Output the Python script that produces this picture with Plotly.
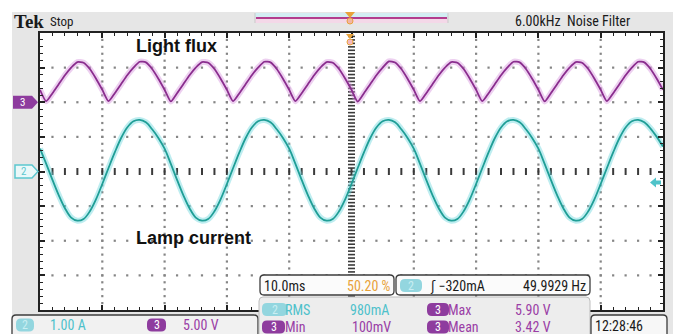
import plotly.graph_objects as go

# ---------------------------------------------------------------- data
# Time base: 10 ms/div, 10 divisions across the screen
time_ms = list(range(0, 101))

# CH3 - light flux (V), 5.00 V/div
light_flux_v = [
    1.80, 0.15, 1.30, 2.60, 3.90, 5.00, 5.80, 5.70, 4.80, 3.40,
    1.80, 0.15, 1.30, 2.60, 3.90, 5.00, 5.85, 5.75, 4.80, 3.40,
    1.80, 0.12, 1.30, 2.60, 3.90, 5.00, 5.80, 5.70, 4.80, 3.40,
    1.80, 0.15, 1.30, 2.60, 3.90, 5.00, 5.85, 5.75, 4.80, 3.40,
    1.80, 0.15, 1.30, 2.60, 3.90, 5.00, 5.80, 5.70, 4.80, 3.40,
    1.80, 0.10, 1.30, 2.60, 3.90, 5.00, 5.90, 5.75, 4.80, 3.40,
    1.80, 0.15, 1.30, 2.60, 3.90, 5.00, 5.80, 5.70, 4.80, 3.40,
    1.80, 0.15, 1.30, 2.60, 3.90, 5.00, 5.85, 5.75, 4.80, 3.40,
    1.80, 0.12, 1.30, 2.60, 3.90, 5.00, 5.80, 5.70, 4.80, 3.40,
    1.80, 0.15, 1.30, 2.60, 3.90, 5.00, 5.85, 5.75, 4.80, 3.40,
    1.80,
]

# CH2 - lamp current (A), 1.00 A/div
lamp_current_a = [
    0.66, 0.22, -0.24, -0.68, -1.06, -1.33, -1.42, -1.37, -1.15, -0.80,
    -0.36, 0.10, 0.55, 0.96, 1.27, 1.45, 1.49, 1.42, 1.22, 0.97,
    0.66, 0.22, -0.24, -0.68, -1.06, -1.33, -1.42, -1.37, -1.15, -0.80,
    -0.36, 0.10, 0.55, 0.96, 1.27, 1.45, 1.49, 1.42, 1.22, 0.97,
    0.66, 0.22, -0.24, -0.68, -1.06, -1.33, -1.42, -1.37, -1.15, -0.80,
    -0.36, 0.10, 0.55, 0.96, 1.27, 1.45, 1.49, 1.42, 1.22, 0.97,
    0.66, 0.22, -0.24, -0.68, -1.06, -1.33, -1.42, -1.37, -1.15, -0.80,
    -0.36, 0.10, 0.55, 0.96, 1.27, 1.45, 1.49, 1.42, 1.22, 0.97,
    0.66, 0.22, -0.24, -0.68, -1.06, -1.33, -1.42, -1.37, -1.15, -0.80,
    -0.36, 0.10, 0.55, 0.96, 1.27, 1.45, 1.49, 1.42, 1.24, 1.00,
    0.72,
]

# channel settings
CH3_VOLTS_PER_DIV = 5.0
CH3_OFFSET_DIV = 2.0
CH2_AMPS_PER_DIV = 1.0
CH2_OFFSET_DIV = 0.0
TRIG_LEVEL_A = -0.32

readout_scale = ["1.00 A", "5.00 V"]
readout_time = ["10.0ms", "50.20 %"]
readout_trig = ["\u0283 \u2212320mA", "49.9929 Hz"]
meas_labels = ["RMS", "Max", "Min", "Mean"]
meas_values = ["980mA", "5.90 V", "100mV", "3.42 V"]

# ---------------------------------------------------------------- geometry
W, H = 679, 334
GX0, GX1, GY0, GY1 = 40, 663, 33, 310

def X(px):
    return px / W

def Y(py):
    return 1 - py / H

def div_to_py(d):
    return GY0 + (4 - d) * (GY1 - GY0) / 8.0

def rrect(x0, y0, x1, y1, r):
    return (f"M {X(x0 + r)},{Y(y0)} L {X(x1 - r)},{Y(y0)} "
            f"Q {X(x1)},{Y(y0)} {X(x1)},{Y(y0 + r)} L {X(x1)},{Y(y1 - r)} "
            f"Q {X(x1)},{Y(y1)} {X(x1 - r)},{Y(y1)} L {X(x0 + r)},{Y(y1)} "
            f"Q {X(x0)},{Y(y1)} {X(x0)},{Y(y1 - r)} L {X(x0)},{Y(y0 + r)} "
            f"Q {X(x0)},{Y(y0)} {X(x0 + r)},{Y(y0)} Z")

def poly(points):
    return "M " + " L ".join(f"{X(a)},{Y(b)}" for a, b in points) + " Z"

PURPLE = "#8a2d8e"
PURPLE_TXT = "#9a3ea6"
BADGE_PURPLE = "#8e3c9e"
TEAL = "#1f9e96"
TEAL_TXT = "#4fc1cb"
BADGE_TEAL = "#93d6df"
ORANGE = "#e8a23a"
BEZEL = "#e6e6e6"
NARROW = "Liberation Sans Narrow, Roboto Condensed, DejaVu Sans Condensed, sans-serif"

fig = go.Figure()

# ---------------------------------------------------------------- graticule dots
gx, gy = [], []
for k in range(1, 10):
    if k == 5:
        continue
    for m in range(1, 40):
        gx.append(k * 10)
        gy.append(-4 + m * 0.2)
for j in range(-3, 4):
    if j == 0:
        continue
    for m in range(1, 50):
        gx.append(m * 2)
        gy.append(j)
fig.add_trace(go.Scatter(x=gx, y=gy, mode="markers", hoverinfo="skip",
                         marker=dict(symbol="square", size=2.2, color="#858585", line=dict(width=0))))

# centre cross with finer ticks
cx = [50] * 79
cy = [-4 + m * 0.1 for m in range(1, 80)]
fig.add_trace(go.Scatter(x=cx, y=cy, mode="markers", hoverinfo="skip",
                         marker=dict(symbol="line-ew", size=5, line=dict(width=1.6, color="#3a3a3a"))))
hx = [m * 2 for m in range(1, 50)]
hy = [0] * len(hx)
fig.add_trace(go.Scatter(x=hx, y=hy, mode="markers", hoverinfo="skip",
                         marker=dict(symbol="line-ns", size=5, line=dict(width=2, color="#3a3a3a"))))

# ---------------------------------------------------------------- waveforms
ch3_div = [CH3_OFFSET_DIV + v / CH3_VOLTS_PER_DIV for v in light_flux_v]
ch2_div = [CH2_OFFSET_DIV + a / CH2_AMPS_PER_DIV for a in lamp_current_a]

for ys, glow, core, sm in [(ch3_div, "rgba(215,150,222,0.45)", PURPLE, 0.6),
                           (ch2_div, "rgba(110,214,222,0.45)", TEAL, 1.0)]:
    fig.add_trace(go.Scatter(x=time_ms, y=ys, mode="lines", hoverinfo="skip",
                             line=dict(color=glow, width=6, shape="spline", smoothing=sm)))
    fig.add_trace(go.Scatter(x=time_ms, y=ys, mode="lines", hoverinfo="skip",
                             line=dict(color=core, width=1.8, shape="spline", smoothing=sm)))

shapes = []
ann = []

# ---------------------------------------------------------------- bezel
for (x0, y0, x1, y1) in [(12, 12, 673, GY0), (12, GY0, GX0, H), (GX1, GY0, 673, H), (GX0, GY1, GX1, H)]:
    shapes.append(dict(type="rect", xref="paper", yref="paper", x0=X(x0), x1=X(x1), y0=Y(y1), y1=Y(y0),
                       fillcolor=BEZEL, line=dict(width=0), layer="below"))

# trigger-position bar on top
shapes.append(dict(type="rect", xref="paper", yref="paper", x0=X(255), x1=X(448), y0=Y(18), y1=Y(13),
                   fillcolor="#d3eef3", line=dict(width=0)))
shapes.append(dict(type="rect", xref="paper", yref="paper", x0=X(255), x1=X(448), y0=Y(23), y1=Y(18),
                   fillcolor="#f4d8e8", line=dict(width=0)))
shapes.append(dict(type="line", xref="paper", yref="paper", x0=X(256), x1=X(447), y0=Y(18), y1=Y(18),
                   line=dict(color="#b23d8e", width=2)))
shapes.append(dict(type="line", xref="paper", yref="paper", x0=X(255), x1=X(255), y0=Y(13), y1=Y(23),
                   line=dict(color="#c9c9c9", width=1)))
shapes.append(dict(type="line", xref="paper", yref="paper", x0=X(448), x1=X(448), y0=Y(13), y1=Y(23),
                   line=dict(color="#c9c9c9", width=1)))
shapes.append(dict(type="path", xref="paper", yref="paper",
                   path=poly([(345, 12), (355, 12), (350, 18)]), fillcolor=ORANGE, line=dict(width=0)))
shapes.append(dict(type="circle", xref="paper", yref="paper", x0=X(347), x1=X(353), y0=Y(24), y1=Y(18),
                   fillcolor="#f2b5a6", line=dict(color=ORANGE, width=1)))
# trigger position marker on the graticule
shapes.append(dict(type="path", xref="paper", yref="paper", layer="above",
                   path=poly([(346, 34), (354, 34), (350, 39)]), fillcolor=ORANGE, line=dict(width=0)))
shapes.append(dict(type="circle", xref="paper", yref="paper", layer="above", x0=X(347), x1=X(353), y0=Y(45), y1=Y(39),
                   fillcolor="#f3b9c0", line=dict(color=ORANGE, width=1)))

# channel ground markers
y3 = div_to_py(CH3_OFFSET_DIV)
y2 = div_to_py(CH2_OFFSET_DIV)
shapes.append(dict(type="path", xref="paper", yref="paper",
                   path=poly([(13, y3 - 6.5), (32, y3 - 6.5), (38, y3), (32, y3 + 6.5), (13, y3 + 6.5)]),
                   fillcolor=BADGE_PURPLE, line=dict(width=0)))
ann.append(dict(x=X(22), y=Y(y3), text="3", font=dict(color="white", size=11, family=NARROW)))
shapes.append(dict(type="path", xref="paper", yref="paper",
                   path=poly([(15, y2 - 6.5), (32, y2 - 6.5), (38, y2), (32, y2 + 6.5), (15, y2 + 6.5)]),
                   fillcolor="#eaf8f9", line=dict(color="#5cc7cf", width=1.5)))
ann.append(dict(x=X(23), y=Y(y2), text="2", font=dict(color="#5cc7cf", size=11, family=NARROW)))

# trigger level marker (right edge)
yt = div_to_py(CH2_OFFSET_DIV + TRIG_LEVEL_A / CH2_AMPS_PER_DIV)
shapes.append(dict(type="path", xref="paper", yref="paper", layer="above",
                   path=poly([(650, yt), (656, yt - 5), (656, yt - 2), (661, yt - 2), (661, yt + 2),
                              (656, yt + 2), (656, yt + 5)]),
                   fillcolor="#4fc3c9", line=dict(width=0)))

# ---------------------------------------------------------------- readout boxes
BOX_LINE = dict(color="#3c3c3c", width=1.3)
shapes.append(dict(type="path", xref="paper", yref="paper", layer="above",
                   path=rrect(12, 315, 258, 340, 4), fillcolor="#f1f1f1", line=BOX_LINE))
shapes.append(dict(type="path", xref="paper", yref="paper", layer="above",
                   path=rrect(260, 275, 394, 295, 4), fillcolor="#fbfbfb", line=BOX_LINE))
shapes.append(dict(type="path", xref="paper", yref="paper", layer="above",
                   path=rrect(396, 275, 590, 295, 4), fillcolor="#fbfbfb", line=BOX_LINE))
shapes.append(dict(type="path", xref="paper", yref="paper", layer="above",
                   path=rrect(259, 297, 590, 340, 4), fillcolor="#ededed", line=dict(color="#bdbdbd", width=1)))
shapes.append(dict(type="path", xref="paper", yref="paper", layer="above",
                   path=rrect(591, 315, 667, 340, 4), fillcolor="#f7f7f7", line=BOX_LINE))

def badge(x0, x1, yc, fill, label, label_color):
    shapes.append(dict(type="path", xref="paper", yref="paper", layer="above",
                       path=rrect(x0, yc - 6.5, x1, yc + 6.5, 5), fillcolor=fill, line=dict(width=0)))
    ann.append(dict(x=X((x0 + x1) / 2), y=Y(yc), text=label,
                    font=dict(color=label_color, size=12, family=NARROW)))

def txt(x, yc, s, color, size=14, anchor="left", family=NARROW, bold=False):
    if bold:
        s = f"<b>{s}</b>"
    ann.append(dict(x=X(x), y=Y(yc), text=s, xanchor=anchor,
                    font=dict(color=color, size=size, family=family)))

# scale box
badge(16, 34, 325, BADGE_TEAL, "2", "#c9eef2")
txt(48, 325, readout_scale[0], TEAL_TXT)
badge(147, 166, 325, BADGE_PURPLE, "3", "white")
txt(181, 325, readout_scale[1], PURPLE_TXT)

# horizontal box
txt(262, 285.5, readout_time[0], "#1a1a1a")
txt(393, 285.5, readout_time[1], ORANGE, anchor="right")

# trigger box
badge(400, 422, 285.5, BADGE_TEAL, "2", "#c9eef2")
txt(428, 285.5, readout_trig[0], "#1a1a1a")
txt(588, 285.5, readout_trig[1], "#1a1a1a", anchor="right")

# measurement box
badge(262, 287, 309.5, BADGE_TEAL, "2", "#c9eef2")
txt(283, 309.5, meas_labels[0], TEAL_TXT)
txt(348, 309.5, meas_values[0], TEAL_TXT)
badge(427, 449, 309.5, BADGE_PURPLE, "3", "white")
txt(446, 309.5, meas_labels[1], PURPLE_TXT)
txt(513, 309.5, meas_values[1], PURPLE_TXT)

badge(262, 285, 327, BADGE_PURPLE, "3", "white")
txt(283, 327, meas_labels[2], PURPLE_TXT)
txt(350, 327, meas_values[2], PURPLE_TXT)
badge(427, 449, 327, BADGE_PURPLE, "3", "white")
txt(446, 327, meas_labels[3], PURPLE_TXT)
txt(513, 327, meas_values[3], PURPLE_TXT)

# clock
txt(593, 326, "12:28:46", "#1a1a1a")

# header
txt(12, 21, "Tek", "#1a1a1a", size=19, family="Liberation Serif, DejaVu Serif, serif", bold=True)
txt(48, 22, "Stop", "#1a1a1a", size=13)
txt(513, 21.5, "6.00kHz&nbsp;&nbsp;Noise Filter", "#1a1a1a", size=14)

# trace labels
txt(134, 46, "Light flux", "#111111", size=18, family="Liberation Sans, Arial, sans-serif", bold=True)
txt(134, 238, "Lamp current", "#111111", size=18, family="Liberation Sans, Arial, sans-serif", bold=True)

for a in ann:
    a.setdefault("xref", "paper")
    a.setdefault("yref", "paper")
    a.setdefault("showarrow", False)
    a.setdefault("yanchor", "middle")
    a.setdefault("xanchor", "center")

fig.update_layout(
    width=W, height=H,
    margin=dict(l=0, r=0, t=0, b=0),
    paper_bgcolor="white",
    plot_bgcolor="white",
    showlegend=False,
    shapes=shapes,
    annotations=ann,
    xaxis=dict(domain=[X(GX0), X(GX1)], range=[0, 100], showgrid=False, zeroline=False,
               showticklabels=False, ticks="inside", ticklen=5, tickwidth=1.5, tickcolor="#222",
               tick0=0, dtick=10,
               minor=dict(ticks="inside", ticklen=3, tickwidth=1.2, tickcolor="#222", dtick=2, tick0=0),
               showline=True, linecolor="#222", linewidth=1.5, mirror="ticks", fixedrange=True),
    yaxis=dict(domain=[Y(GY1), Y(GY0)], range=[-4, 4], showgrid=False, zeroline=False,
               showticklabels=False, ticks="inside", ticklen=5, tickwidth=1.5, tickcolor="#222",
               tick0=0, dtick=1,
               minor=dict(ticks="inside", ticklen=3, tickwidth=1.2, tickcolor="#222", dtick=0.2, tick0=0),
               showline=True, linecolor="#222", linewidth=1.5, mirror="ticks", fixedrange=True),
)

fig.write_html("out.html")
